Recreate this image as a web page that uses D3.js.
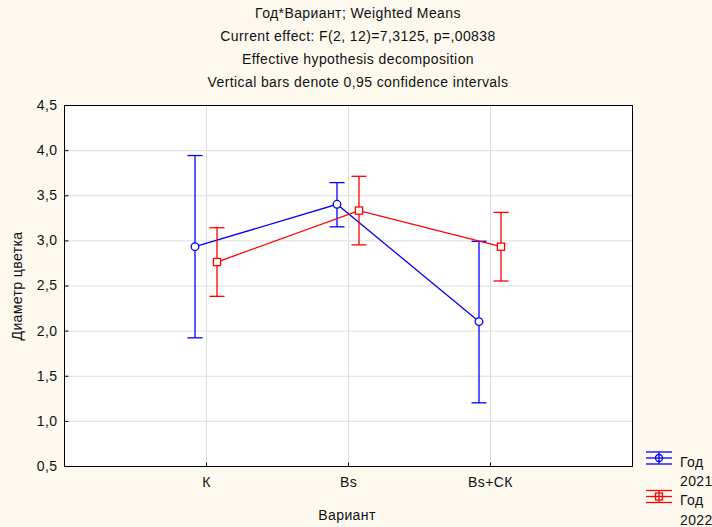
<!DOCTYPE html>
<html><head><meta charset="utf-8">
<script src="https://cdn.jsdelivr.net/npm/d3@7"></script>
<style>
html,body{margin:0;padding:0;background:#fdf9ef;}
svg{display:block;font-family:"Liberation Sans",Arial,sans-serif;letter-spacing:0.4px;}
</style></head>
<body>
<svg id="c" width="712" height="527"></svg>
<script>
const categories = ["К", "Bs", "Bs+СК"];
const seriesNames = ["Год\n2021", "Год\n2022"];
const mean2021 = [2.93, 3.40, 2.10];
const low2021  = [1.92, 3.15, 1.20];
const high2021 = [3.94, 3.64, 2.99];
const mean2022 = [2.76, 3.33, 2.93];
const low2022  = [2.38, 2.95, 2.55];
const high2022 = [3.14, 3.71, 3.31];
const yTicks = [0.5, 1.0, 1.5, 2.0, 2.5, 3.0, 3.5, 4.0, 4.5];
const titleLines = ["Год*Вариант; Weighted Means",
  "Current effect: F(2, 12)=7,3125, p=,00838",
  "Effective hypothesis decomposition",
  "Vertical bars denote 0,95 confidence intervals"];

const FS = 14;
const svg = d3.select("#c");
const L = 64, R = 632, T = 105, B = 466;
const x = d3.scalePoint().domain(["", ...categories, " "]).range([L, R]);
const y = d3.scaleLinear().domain([0.5, 4.5]).range([B, T]);
const fmt = d => d.toFixed(1).replace(".", ",");

svg.append("rect").attr("x", L).attr("y", T).attr("width", R - L).attr("height", B - T).attr("fill", "#fff");

// grid
svg.append("g").selectAll("line").data(yTicks.slice(1, -1)).join("line")
  .attr("x1", L).attr("x2", R).attr("y1", d => y(d) + 0.5).attr("y2", d => y(d) + 0.5)
  .attr("stroke", "#dcdcdc").attr("stroke-width", 1);
svg.append("g").selectAll("line").data(categories).join("line")
  .attr("y1", T).attr("y2", B).attr("x1", d => x(d) + 0.5).attr("x2", d => x(d) + 0.5)
  .attr("stroke", "#dcdcdc").attr("stroke-width", 1);

// axes
const ya = svg.append("g").attr("transform", `translate(${L + 0.5},0)`)
  .call(d3.axisLeft(y).tickValues(yTicks).tickFormat(fmt).tickSizeInner(-4).tickSizeOuter(0).tickPadding(7));
const xa = svg.append("g").attr("transform", `translate(0,${B + 0.5})`)
  .call(d3.axisBottom(x).tickValues(categories).tickSizeInner(-4).tickSizeOuter(0).tickPadding(11));
[ya, xa].forEach(g => {
  g.select(".domain").remove();
  g.selectAll("text").attr("font-size", FS).attr("fill", "#111").attr("font-family", "Liberation Sans, Arial, sans-serif");
  g.selectAll(".tick line").attr("stroke", "#000");
});
svg.append("rect").attr("x", L + 0.5).attr("y", T + 0.5).attr("width", R - L).attr("height", B - T)
  .attr("fill", "none").attr("stroke", "#000").attr("stroke-width", 1);

const series = [
  {name: seriesNames[0], mean: mean2021, low: low2021, high: high2021, color: "#0000ff", off: -11, marker: "circle"},
  {name: seriesNames[1], mean: mean2022, low: low2022, high: high2022, color: "#ff0000", off: 11, marker: "square"}
];
const cap = 7.5;
series.forEach(s => {
  const g = svg.append("g");
  const px = i => x(categories[i]) + s.off;
  g.append("path").attr("d", d3.line().x((d, i) => px(i)).y(d => y(d))(s.mean))
    .attr("fill", "none").attr("stroke", s.color).attr("stroke-width", 1.3);
  categories.forEach((c, i) => {
    g.append("line").attr("x1", px(i)).attr("x2", px(i)).attr("y1", y(s.low[i])).attr("y2", y(s.high[i]))
      .attr("stroke", s.color).attr("stroke-width", 1.3);
    [s.low[i], s.high[i]].forEach(v => g.append("line").attr("x1", px(i) - cap).attr("x2", px(i) + cap)
      .attr("y1", y(v)).attr("y2", y(v)).attr("stroke", s.color).attr("stroke-width", 1.3));
    if (s.marker === "circle") {
      g.append("circle").attr("cx", px(i)).attr("cy", y(s.mean[i])).attr("r", 3.8)
        .attr("fill", "#fff").attr("stroke", s.color).attr("stroke-width", 1.3);
    } else {
      g.append("rect").attr("x", px(i) - 3.6).attr("y", y(s.mean[i]) - 3.6).attr("width", 7.2).attr("height", 7.2)
        .attr("fill", "#fff").attr("stroke", s.color).attr("stroke-width", 1.3);
    }
  });
});

// titles
svg.append("g").selectAll("text").data(titleLines).join("text")
  .attr("x", 358).attr("y", (d, i) => 18 + i * 23).attr("text-anchor", "middle")
  .attr("font-size", FS).attr("fill", "#111").text(d => d);

svg.append("text").attr("transform", "translate(22,286) rotate(-90)").attr("text-anchor", "middle")
  .attr("font-size", FS).attr("fill", "#111").text("Диаметр цветка");
svg.append("text").attr("x", 347).attr("y", 520).attr("text-anchor", "middle")
  .attr("font-size", FS).attr("fill", "#111").text("Вариант");

// legend
series.forEach((s, k) => {
  const cy = 458 + k * 38.5, x0 = 646, x1 = 672, cx = 659;
  const g = svg.append("g");
  [-6, 0, 6].forEach(dy => g.append("line").attr("x1", x0).attr("x2", x1).attr("y1", cy + dy).attr("y2", cy + dy)
    .attr("stroke", s.color).attr("stroke-width", 1.3));
  g.append("line").attr("x1", cx).attr("x2", cx).attr("y1", cy - 6).attr("y2", cy + 6).attr("stroke", s.color).attr("stroke-width", 1.3);
  if (s.marker === "circle") g.append("circle").attr("cx", cx).attr("cy", cy).attr("r", 3.5).attr("fill", "none").attr("stroke", s.color).attr("stroke-width", 1.3);
  else g.append("rect").attr("x", cx - 3.5).attr("y", cy - 3.5).attr("width", 7).attr("height", 7).attr("fill", "none").attr("stroke", s.color).attr("stroke-width", 1.3);
  const lines = s.name.split("\n");
  lines.forEach((t, j) => g.append("text").attr("x", 680).attr("y", cy + 8.5 + j * 19.5)
    .attr("font-size", FS).attr("fill", "#111").text(t));
});
</script>
</body></html>
